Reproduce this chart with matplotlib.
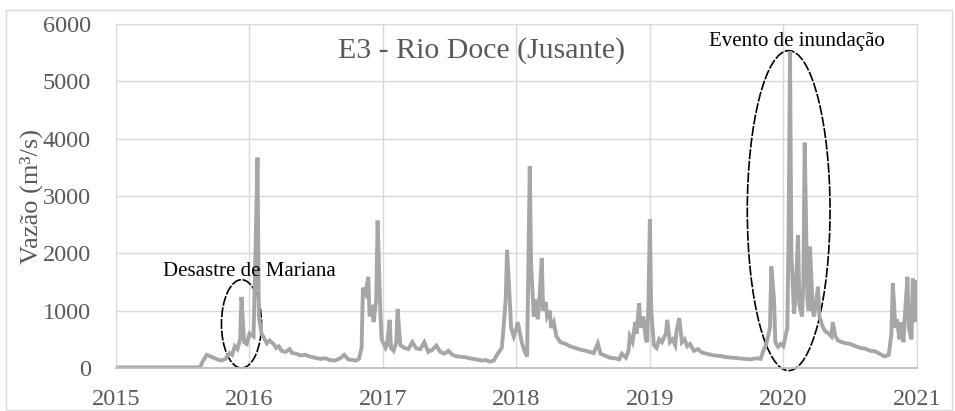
import matplotlib.pyplot as plt
from matplotlib.patches import Ellipse, Rectangle

# daily-ish flow record at station E3, time in decimal years
tempo = [
    2015.00, 2015.63, 2015.65, 2015.68, 2015.72, 2015.76, 2015.79, 2015.82, 2015.85, 2015.87,
    2015.89, 2015.91, 2015.93, 2015.94, 2015.96, 2015.98, 2016.00, 2016.03, 2016.04, 2016.06,
    2016.07, 2016.09, 2016.11, 2016.13, 2016.15, 2016.18, 2016.20, 2016.22, 2016.24, 2016.27,
    2016.30, 2016.32, 2016.35, 2016.38, 2016.42, 2016.45, 2016.49, 2016.53, 2016.57, 2016.60,
    2016.64, 2016.68, 2016.71, 2016.74, 2016.77, 2016.80, 2016.82, 2016.84, 2016.85, 2016.87,
    2016.89, 2016.90, 2016.92, 2016.93, 2016.95, 2016.96, 2016.98, 2016.99, 2017.02, 2017.03,
    2017.05, 2017.06, 2017.08, 2017.10, 2017.11, 2017.13, 2017.16, 2017.19, 2017.22, 2017.25,
    2017.28, 2017.31, 2017.34, 2017.37, 2017.40, 2017.43, 2017.46, 2017.49, 2017.52, 2017.56,
    2017.61, 2017.65, 2017.70, 2017.74, 2017.77, 2017.80, 2017.83, 2017.86, 2017.89, 2017.90,
    2017.92, 2017.93, 2017.95, 2017.96, 2017.98, 2018.00, 2018.01, 2018.04, 2018.06, 2018.08,
    2018.10, 2018.11, 2018.13, 2018.14, 2018.16, 2018.17, 2018.19, 2018.20, 2018.22, 2018.23,
    2018.25, 2018.26, 2018.28, 2018.30, 2018.33, 2018.37, 2018.40, 2018.44, 2018.48, 2018.52,
    2018.55, 2018.58, 2018.61, 2018.63, 2018.67, 2018.70, 2018.74, 2018.77, 2018.79, 2018.82,
    2018.84, 2018.85, 2018.87, 2018.89, 2018.90, 2018.92, 2018.93, 2018.95, 2018.97, 2018.98,
    2018.99, 2019.00, 2019.01, 2019.03, 2019.05, 2019.07, 2019.09, 2019.12, 2019.13, 2019.15,
    2019.17, 2019.19, 2019.20, 2019.22, 2019.24, 2019.26, 2019.28, 2019.30, 2019.33, 2019.36,
    2019.39, 2019.44, 2019.48, 2019.53, 2019.57, 2019.62, 2019.66, 2019.71, 2019.75, 2019.80,
    2019.83, 2019.85, 2019.87, 2019.90, 2019.91, 2019.93, 2019.94, 2019.96, 2019.98, 2020.00,
    2020.03, 2020.04, 2020.05, 2020.06, 2020.08, 2020.09, 2020.11, 2020.12, 2020.14, 2020.15,
    2020.16, 2020.18, 2020.19, 2020.20, 2020.22, 2020.23, 2020.26, 2020.27, 2020.29, 2020.31,
    2020.34, 2020.36, 2020.37, 2020.39, 2020.41, 2020.44, 2020.47, 2020.50, 2020.54, 2020.58,
    2020.61, 2020.65, 2020.69, 2020.72, 2020.76, 2020.79, 2020.81, 2020.82, 2020.84, 2020.85,
    2020.87, 2020.88, 2020.90, 2020.91, 2020.93, 2020.94, 2020.96, 2020.97, 2020.99, 2021.00,
]
vazao = [
    10, 10, 120, 230, 190, 150, 130, 160, 260, 230,
    380, 330, 500, 1240, 450, 420, 600, 550, 1500, 3670,
    900, 600, 520, 430, 480, 420, 350, 380, 300, 280,
    330, 260, 250, 220, 230, 200, 180, 160, 170, 140,
    130, 170, 230, 150, 140, 130, 160, 350, 1400, 1300,
    1590, 900, 1100, 800, 1200, 2570, 1000, 500, 350, 400,
    840, 350, 300, 450, 1030, 400, 350, 330, 450, 340,
    330, 450, 280, 320, 390, 280, 250, 300, 230, 200,
    190, 170, 150, 130, 140, 110, 130, 250, 350, 600,
    1200, 2060, 1200, 700, 550, 700, 800, 450, 300, 200,
    3520, 1800, 900, 1200, 850, 1100, 1920, 1000, 1150, 900,
    1000, 700, 800, 550, 450, 420, 380, 350, 320, 300,
    280, 260, 430, 250, 210, 180, 170, 150, 250, 180,
    300, 550, 450, 800, 600, 1130, 700, 900, 500, 450,
    1200, 2590, 1000, 400, 350, 500, 450, 600, 840, 450,
    500, 400, 650, 870, 450, 500, 380, 420, 300, 330,
    270, 240, 220, 210, 190, 180, 170, 160, 150, 170,
    160, 300, 400, 700, 1770, 1200, 450, 370, 420, 380,
    700, 2500, 5520, 2000, 950, 1200, 2320, 1100, 900, 1500,
    3930, 1200, 1000, 2120, 1000, 900, 1420, 900, 750, 650,
    600, 550, 800, 550, 480, 450, 430, 420, 380, 350,
    340, 300, 290, 250, 200, 230, 600, 1480, 700, 850,
    500, 800, 450, 900, 1590, 700, 500, 1560, 800, 1500,
]

anos = [2015, 2016, 2017, 2018, 2019, 2020, 2021]
niveis = [0, 1000, 2000, 3000, 4000, 5000, 6000]

serif = 'Liberation Serif'
cinza = '#595959'

fig = plt.figure(figsize=(9.55, 4.11), dpi=100)
ax = fig.add_axes([0.1215, 0.1046, 0.8385, 0.837])

# thin frame around the whole chart
fig.patches.append(Rectangle((0.006, 0.003), 0.991, 0.972, transform=fig.transFigure,
                             fill=False, edgecolor='#d9d9d9', linewidth=1))

ax.plot(tempo, vazao, color='#a6a6a6', linewidth=2.8, solid_joinstyle='miter')

ax.set_xlim(2015, 2021)
ax.set_ylim(0, 6000)
ax.set_xticks(anos)
ax.set_yticks(niveis)
ax.set_xticklabels([str(a) for a in anos])
ax.grid(True, color='#d9d9d9', linewidth=1)
ax.set_axisbelow(True)
for lado in ['top', 'right', 'left']:
    ax.spines[lado].set_color('#d9d9d9')
ax.spines['bottom'].set_color('#bfbfbf')
ax.spines['bottom'].set_linewidth(1.3)
ax.tick_params(length=0, labelsize=17.5, labelcolor=cinza)
ax.tick_params(axis='x', pad=15)
ax.tick_params(axis='y', pad=18)
for lab in ax.get_xticklabels() + ax.get_yticklabels():
    lab.set_fontfamily(serif)

ax.set_ylabel('Vazão (m³/s)', fontsize=19, color=cinza, fontfamily=serif, labelpad=0)

ax.text(0.457, 0.924, 'E3 - Rio Doce (Jusante)', transform=ax.transAxes,
        ha='center', va='center', fontsize=21.5, color=cinza, fontfamily=serif)

# highlighted events
ax.text(2016.0, 1680, 'Desastre de Mariana', ha='center', va='center',
        fontsize=15, color='black', fontfamily=serif)
ax.add_patch(Ellipse((2015.94, 770), 0.30, 1540, fill=False, edgecolor='black',
                     linewidth=1.2, linestyle=(0, (6, 1)), clip_on=False))
ax.text(2020.10, 5700, 'Evento de inundação', ha='center', va='center',
        fontsize=15, color='black', fontfamily=serif)
ax.add_patch(Ellipse((2020.04, 2745), 0.62, 5580, fill=False, edgecolor='black',
                     linewidth=1.2, linestyle=(0, (6, 1)), clip_on=False))

fig.savefig('out.png', dpi=100)
